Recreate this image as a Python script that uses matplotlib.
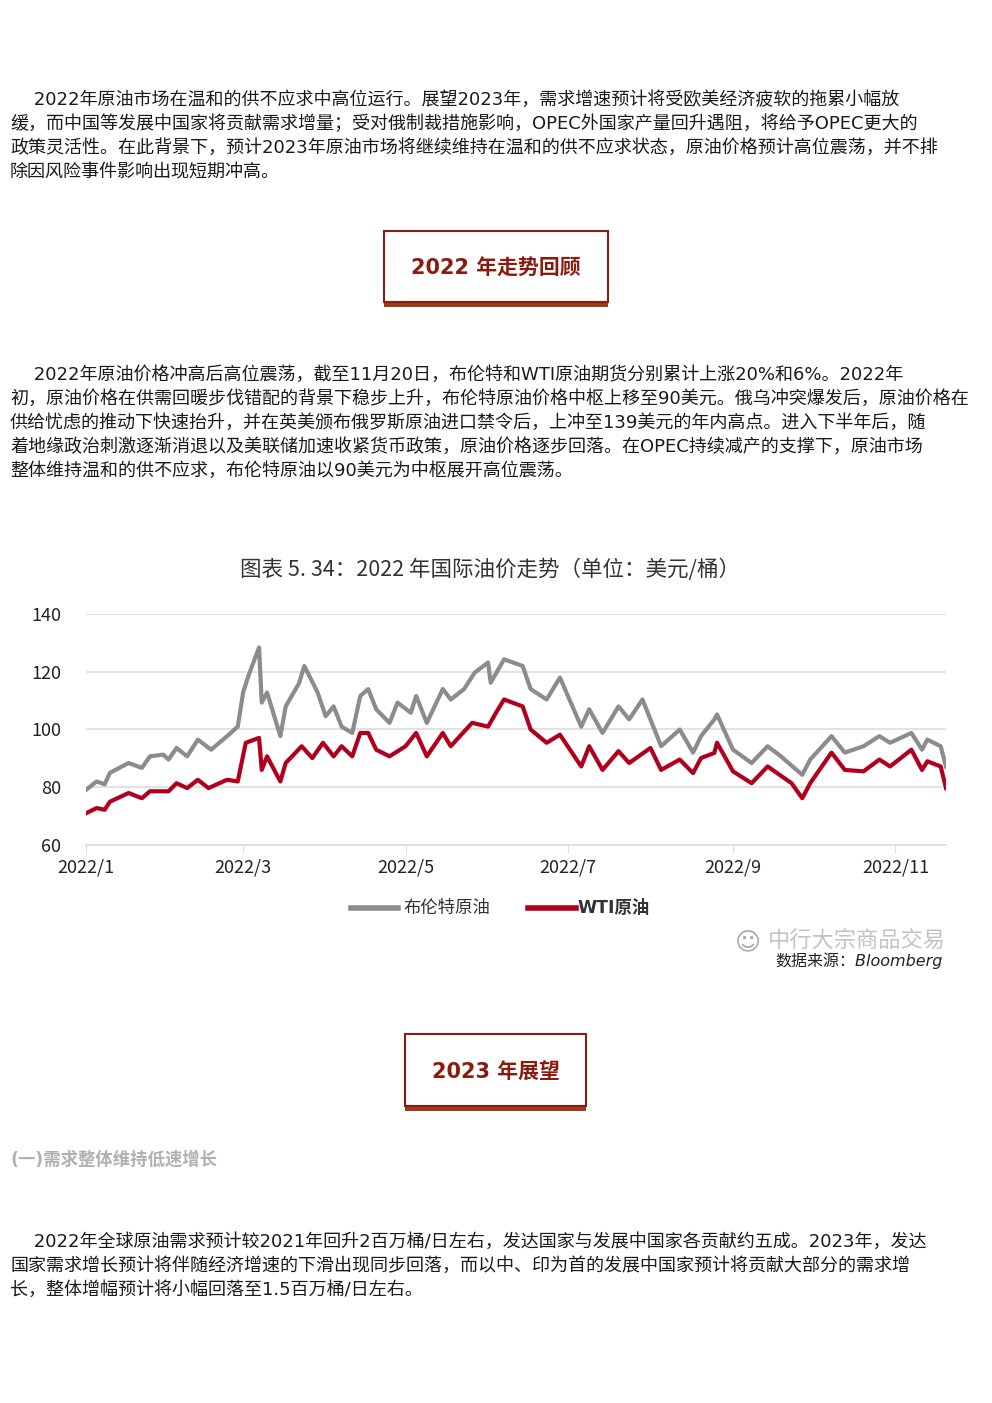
import matplotlib
matplotlib.use('Agg')
import matplotlib.pyplot as plt
from matplotlib.patches import Rectangle
from datetime import datetime, timedelta

plt.rcParams['font.family'] = ['DejaVu Sans', 'Noto Sans CJK SC']

# day offset from 2022-01-01, price (USD/bbl)
brent_days = [0, 4, 7, 9, 16, 21, 24, 29, 31, 34, 38, 42, 47, 53, 57, 59, 61, 65, 66, 68,
              73, 75, 80, 82, 87, 90, 93, 96, 100, 103, 106, 109, 114, 117, 122, 124, 128,
              134, 137, 142, 146, 151, 152, 157, 164, 167, 173, 178, 186, 189, 194, 200,
              204, 209, 216, 223, 228, 231, 236, 237, 243, 250, 256, 261, 269, 272, 280,
              285, 292, 298, 302, 310, 314, 316, 321, 323]
brent = [79.1, 82, 81, 85, 88.4, 86.7, 90.7, 91.3, 89.6, 93.6, 90.7, 96.5, 93, 97.7, 101,
         112.8, 118.6, 128.4, 109.3, 112.8, 97.7, 108, 116, 122, 112.8, 104.6, 108, 101,
         98.8, 111.6, 114, 107, 102.3, 109.3, 105.8, 111.6, 102.3, 114, 110.4, 114, 119.7,
         123.2, 116.2, 124.3, 122, 114, 110.4, 118, 101, 107, 98.8, 108, 103.5, 110.4,
         94.2, 100, 92, 97.7, 103.5, 105.2, 93, 88.4, 94.2, 90.7, 84.3, 89.6, 97.7, 92,
         94.2, 97.7, 95.4, 98.8, 93, 96.5, 94.2, 87.2]

wti_days = [0, 4, 7, 9, 16, 21, 24, 31, 34, 38, 42, 46, 53, 57, 60, 65, 66, 68, 73, 75,
            81, 85, 89, 93, 96, 100, 103, 106, 109, 114, 120, 124, 128, 134, 137, 145, 151,
            154, 157, 164, 167, 173, 178, 186, 189, 194, 200, 204, 212, 216, 223, 228, 231,
            236, 237, 243, 250, 256, 265, 269, 272, 280, 285, 292, 298, 302, 310, 314, 316,
            321, 323]
wti = [71, 72.8, 72.2, 75, 78, 76.2, 78.6, 78.6, 81.4, 79.7, 82.6, 79.7, 82.6, 82, 95.4,
       97.1, 86, 90.7, 82, 88.4, 94.2, 90.1, 95.4, 90.7, 94.2, 90.7, 98.8, 98.8, 93, 90.7,
       94.2, 98.8, 90.7, 98.8, 94.2, 102.3, 101, 105.8, 110.4, 108, 100, 95.4, 98.2, 87.2,
       94.2, 86, 92.5, 88.4, 93.6, 86, 89.6, 84.9, 90.1, 91.9, 95.4, 85.5, 81.4, 87.2,
       81.4, 76.2, 81.4, 92, 86, 85.5, 89.6, 87.2, 93, 86, 89, 87.2, 79.7]

tick_months = [1, 3, 5, 7, 9, 11]
tick_labels = ['2022/1', '2022/3', '2022/5', '2022/7', '2022/9', '2022/11']
y_ticks = [60, 80, 100, 120, 140]

W, H = 992, 1403
fig = plt.figure(figsize=(W / 100, H / 100), dpi=100)


def px(x, y):
    return x / W, 1 - y / H


def t(x, y, s, **kw):
    kw.setdefault('fontsize', 13.0)
    kw.setdefault('color', '#1a1a1a')
    fig.text(*px(x, y), s, va='center', **kw)


para1 = ['　 2022年原油市场在温和的供不应求中高位运行。展望2023年，需求增速预计将受欧美经济疲软的拖累小幅放',
         '缓，而中国等发展中国家将贡献需求增量；受对俄制裁措施影响，OPEC外国家产量回升遇阻，将给予OPEC更大的',
         '政策灵活性。在此背景下，预计2023年原油市场将继续维持在温和的供不应求状态，原油价格预计高位震荡，并不排',
         '除因风险事件影响出现短期冲高。']
para2 = ['　 2022年原油价格冲高后高位震荡，截至11月20日，布伦特和WTI原油期货分别累计上涨20%和6%。2022年',
         '初，原油价格在供需回暖步伐错配的背景下稳步上升，布伦特原油价格中枢上移至90美元。俄乌冲突爆发后，原油价格在',
         '供给忧虑的推动下快速抬升，并在英美颁布俄罗斯原油进口禁令后，上冲至139美元的年内高点。进入下半年后，随',
         '着地缘政治刺激逐渐消退以及美联储加速收紧货币政策，原油价格逐步回落。在OPEC持续减产的支撑下，原油市场',
         '整体维持温和的供不应求，布伦特原油以90美元为中枢展开高位震荡。']
para3 = ['　 2022年全球原油需求预计较2021年回升2百万桶/日左右，发达国家与发展中国家各贡献约五成。2023年，发达',
         '国家需求增长预计将伴随经济增速的下滑出现同步回落，而以中、印为首的发展中国家预计将贡献大部分的需求增',
         '长，整体增幅预计将小幅回落至1.5百万桶/日左右。']

for i, line in enumerate(para1):
    t(10, 100 + 24 * i, line)
for i, line in enumerate(para2):
    t(10, 375 + 24 * i, line)
for i, line in enumerate(para3):
    t(10, 1242 + 24 * i, line)


def box(x0, x1, y0, y1, label):
    fig.patches.append(Rectangle(px(x0, y1 + 5), (x1 - x0) / W, 6 / H,
                                 transform=fig.transFigure, facecolor='#9c3b1c',
                                 edgecolor='none'))
    fig.patches.append(Rectangle(px(x0, y1), (x1 - x0) / W, (y1 - y0) / H,
                                 transform=fig.transFigure, facecolor='white',
                                 edgecolor='#8b1a10', linewidth=1.5))
    fig.text(*px((x0 + x1) / 2, (y0 + y1) / 2 + 2), label, ha='center', va='center',
             fontsize=15, fontweight='bold', color='#8b1a10')


box(384, 608, 231, 302, '2022 年走势回顾')
box(405, 586, 1034, 1106, '2023 年展望')
t(10, 1160, '(一)需求整体维持低速增长', fontsize=12.5, fontweight='bold', color='#b0b0b0')

# chart
t(490, 570, '图表 5. 34：2022 年国际油价走势（单位：美元/桶）', fontsize=15.5,
  color='#333333', ha='center', family=['Noto Sans CJK SC'])

l, r, top, bot = 86, 946, 614, 845
ax = fig.add_axes([l / W, 1 - bot / H, (r - l) / W, (bot - top) / H])
d0 = datetime(2022, 1, 1)
ax.plot([d0 + timedelta(days=d) for d in brent_days], brent, color='#8c8c8c', lw=3,
        solid_joinstyle='round')
ax.plot([d0 + timedelta(days=d) for d in wti_days], wti, color='#b0001e', lw=3,
        solid_joinstyle='round')
ax.set_xlim(d0, d0 + timedelta(days=323))
ax.set_ylim(60, 140)
ax.set_yticks(y_ticks)
ax.set_xticks([datetime(2022, m, 1) for m in tick_months])
ax.set_xticklabels(tick_labels)
ax.grid(axis='y', color='#dddddd', lw=1.2)
for s in ['top', 'right', 'left']:
    ax.spines[s].set_visible(False)
ax.spines['bottom'].set_color('#dddddd')
ax.spines['bottom'].set_linewidth(1.2)
ax.tick_params(axis='y', length=0, labelsize=13, pad=18, colors='#222222')
ax.tick_params(axis='x', length=6, color='#dddddd', labelsize=13, pad=4, labelcolor='#222222')
for lab in ax.get_xticklabels() + ax.get_yticklabels():
    lab.set_fontfamily(['Noto Sans CJK SC'])

# legend
fig.lines.append(plt.Line2D([351 / W, 398 / W], [1 - 908 / H] * 2, color='#8c8c8c', lw=4,
                            transform=fig.transFigure))
t(403, 908, '布伦特原油', fontsize=12.5, color='#333333')
fig.lines.append(plt.Line2D([528 / W, 576 / W], [1 - 908 / H] * 2, color='#b0001e', lw=4,
                            transform=fig.transFigure))
t(577, 908, 'WTI原油', fontsize=12.5, color='#333333', fontweight='bold')

t(768, 940, '中行大宗商品交易', fontsize=16, color='#aaaaaa', alpha=0.7)
t(735, 942, '☺', fontsize=18, color='#aaaaaa')
t(775, 961, '数据来源：Bloomberg', fontsize=11.5, color='#222222', style='italic')

fig.savefig('out.png', dpi=100)
